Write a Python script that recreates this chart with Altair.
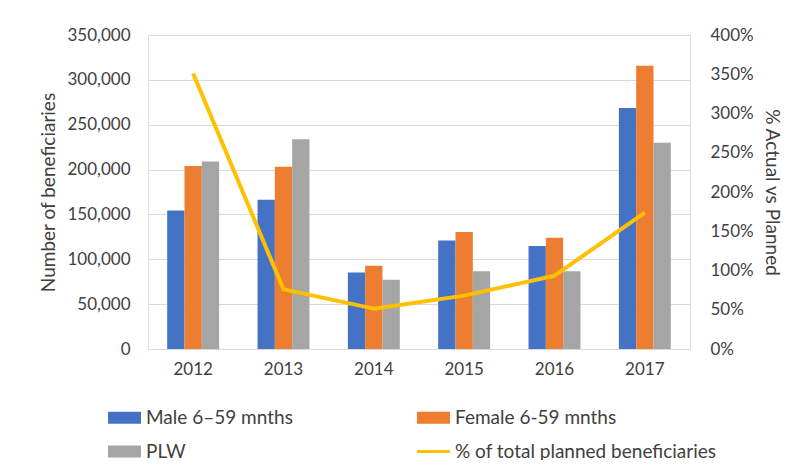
import altair as alt
import pandas as pd

years = ["2012", "2013", "2014", "2015", "2016", "2017"]
male = [154500, 166400, 85400, 121000, 114800, 268600]
female = [204000, 203200, 92900, 130400, 124000, 315800]
plw = [209000, 233700, 77300, 86600, 86600, 230000]
pct = [3.51, 0.76, 0.514, 0.68, 0.934, 1.737]

series = ["Male 6\u201359 mnths", "Female 6-59 mnths", "PLW", "% of total planned beneficiaries"]
colors = ["#4472C4", "#ED7D31", "#A5A5A5", "#FFC000"]

rows = []
for i, y in enumerate(years):
    rows.append({"year": y, "series": series[0], "value": male[i]})
    rows.append({"year": y, "series": series[1], "value": female[i]})
    rows.append({"year": y, "series": series[2], "value": plw[i]})
bars_df = pd.DataFrame(rows)
line_df = pd.DataFrame({"year": years, "series": series[3], "pct": pct})
key_df = pd.DataFrame({"series": series})

FONT = "Lato"
FS = 17
LFS = 19
TFS = 19
TXT = "#404040"

rect_path = "M-1,-0.36H1V0.36H-1Z"
thin_path = "M-1,-0.09H1V0.09H-1Z"
shapes = [rect_path, rect_path, rect_path, thin_path]

legend = alt.Legend(
    title=None,
    orient="none",
    legendX=-40,
    legendY=366,
    direction="horizontal",
    columns=2,
    gridAlign="all",
    columnPadding=9,
    rowPadding=7,
    symbolSize=1089,
    symbolStrokeWidth=0,
    symbolOpacity=1,
    labelFont=FONT,
    labelFontSize=LFS,
    labelColor=TXT,
    labelOffset=5,
    labelLimit=400,
)

color = alt.Color("series:N", scale=alt.Scale(domain=series, range=colors), legend=legend)

xenc = alt.X(
    "year:N",
    sort=years,
    scale=alt.Scale(paddingInner=0.425, paddingOuter=0.2125),
    axis=alt.Axis(
        title=None, labelAngle=0, ticks=False, domain=False, grid=False,
        labelFont=FONT, labelFontSize=FS, labelColor=TXT, labelPadding=12,
    ),
)

bars = alt.Chart(bars_df).mark_bar().encode(
    x=xenc,
    xOffset=alt.XOffset("series:N", sort=series[:3]),
    y=alt.Y(
        "value:Q",
        scale=alt.Scale(domain=[0, 350000]),
        axis=alt.Axis(
            title="Number of beneficiaries",
            values=list(range(0, 350001, 50000)),
            format=",.0f",
            ticks=False, domain=False,
            grid=True, gridColor="#D9D9D9", gridWidth=1,
            labelFont=FONT, labelFontSize=FS, labelColor=TXT, labelPadding=18,
            titleFont=FONT, titleFontSize=TFS, titleColor=TXT, titleFontWeight="normal",
            titlePadding=8,
        ),
    ),
    color=color,
)

line = alt.Chart(line_df).mark_line(strokeWidth=4, strokeJoin="round").encode(
    x=alt.X("year:N", sort=years, axis=alt.Axis(grid=False, domain=False, ticks=False)),
    y=alt.Y(
        "pct:Q",
        scale=alt.Scale(domain=[0, 4]),
        axis=alt.Axis(
            orient="right",
            title="% Actual vs Planned",
            values=[0, 0.5, 1, 1.5, 2, 2.5, 3, 3.5, 4],
            format=".0%",
            ticks=False, domain=False, grid=False,
            labelFont=FONT, labelFontSize=FS, labelColor=TXT, labelPadding=20,
            titleFont=FONT, titleFontSize=TFS, titleColor=TXT, titleFontWeight="normal",
            titlePadding=8,
        ),
    ),
    color=color,
)

keys = alt.Chart(key_df).mark_point(filled=True, size=0, opacity=0).encode(
    x=alt.value(300),
    y=alt.value(150),
    color=color,
    shape=alt.Shape("series:N", scale=alt.Scale(domain=series, range=shapes), legend=legend),
)

chart = (
    alt.layer(bars, line, keys)
    .resolve_scale(y="independent")
    .properties(
        width=542,
        height=314,
        autosize=alt.AutoSizeParams(type="none"),
        padding={"left": 140, "top": 27, "right": 97, "bottom": 111},
    )
    .configure_view(stroke="transparent", strokeWidth=0)
    .configure_axis(domain=False, ticks=False, grid=False)
    .configure_axisX(grid=False, domain=False)
    .configure_axisY(domain=False)
    .configure(background="white")
)

chart.save("out.html", embed_options={"renderer": "svg", "actions": False})
